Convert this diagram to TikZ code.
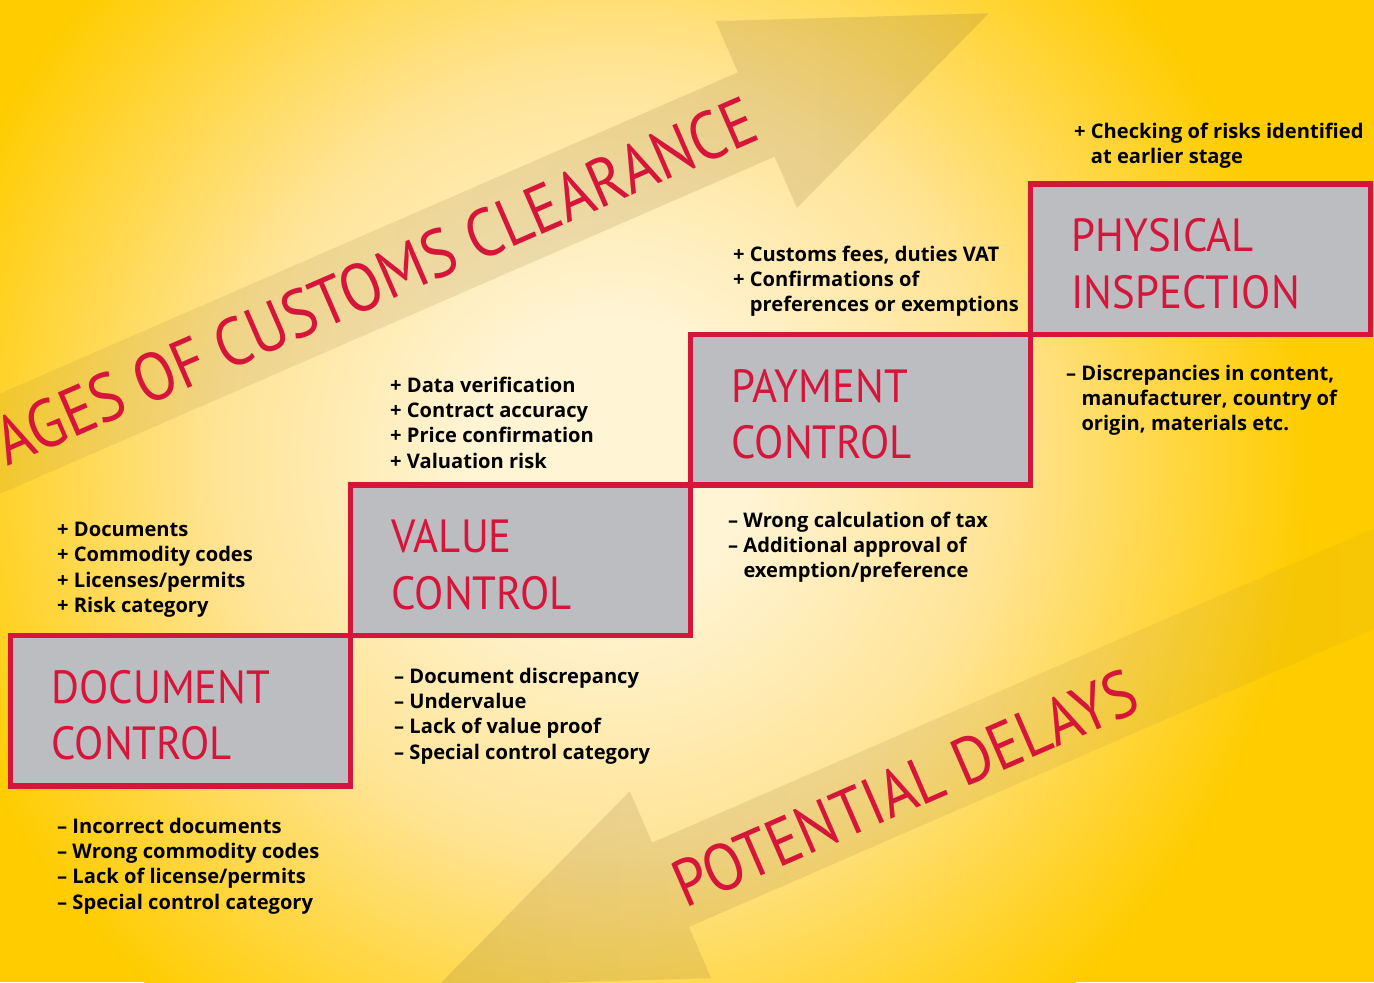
\documentclass[tikz,border=0pt]{standalone}
\usepackage{fontspec}
\usetikzlibrary{fadings}
\setmainfont{Open Sans}
\newfontfamily\headfont[FakeStretch=0.92]{PT Sans}
\newfontfamily\slogfont[FakeStretch=0.89]{PT Sans}

\definecolor{stagered}{RGB}{214,21,58}
\definecolor{stagegray}{RGB}{188,189,193}
\definecolor{bgin}{RGB}{255,244,212}
\definecolor{bgmid}{RGB}{255,228,150}
\definecolor{bgout}{RGB}{255,204,0}
\definecolor{arrowtan}{RGB}{150,120,60}
\pgfdeclareradialshading{bgglow}{\pgfpoint{0bp}{0bp}}{color(0bp)=(bgin); color(5bp)=(bgin); color(14bp)=(bgmid); color(25bp)=(bgout); color(50bp)=(bgout)}
\tikzfading[name=shaftfade, left color=transparent!0, right color=transparent!80]
\tikzfading[name=tailfade, left color=transparent!50, right color=transparent!0]

\tikzset{
  stage/.style={draw=stagered, line width=5.5bp, fill=stagegray, minimum width=340bp, minimum height=150.5bp, inner sep=0pt},
  stagetitle/.style={anchor=base west, inner sep=0pt, text=stagered, align=left, font=\headfont\fontsize{46.7}{56.7}\selectfont},
  note/.style={anchor=base west, inner sep=0pt, font=\bfseries\fontsize{20.2}{25.5}\selectfont},
  bigarrow/.style={fill=arrowtan, fill opacity=0.22},
  slogan/.style={anchor=base west, inner sep=0pt, text=stagered, rotate=23.5, font=\slogfont\fontsize{68}{68}\selectfont}
}

\begin{document}
\begin{tikzpicture}[x=1bp,y=-1bp]
\useasboundingbox (0,0) rectangle (1374,982);
\clip (0,0) rectangle (1374,982);
% background glow
\fill[bgout] (0,0) rectangle (1374,982);
\shade[shading=bgglow] (610,460) circle (700);

% the two big arrows
\fill[bigarrow, path fading=tailfade] (-48.9,515.3) -- (776.4,156.2) -- (798.7,207.5) -- (990.9,12.7)
  -- (717.3,20.5) -- (739.6,71.8) -- (-85.7,430.9) -- cycle;
\fill[bigarrow, path fading=shaftfade] (1515.2,567.6) -- (689.9,926.7) -- (712.2,978.0) -- (438.6,985.8)
  -- (630.8,791.0) -- (653.1,842.3) -- (1478.4,483.2) -- cycle;
\node[slogan] (stages) at (7,467) {AGES OF CUSTOMS CLEARANCE};
\node[slogan, font=\slogfont\fontsize{66.5}{66.5}\selectfont] (delays) at (685,909) {POTENTIAL DELAYS};

% the four stages
\node[stage] (doc) at (180.5,710.75) {};
\node[stage] (value) at (520.5,560.25) {};
\node[stage] (payment) at (860.5,409.75) {};
\node[stage] (physical) at (1200.5,259.25) {};
\node[stagetitle] (doctitle) at ([shift={(43.5,127.2)}]doc.north west) {DOCUMENT\\CONTROL};
\node[stagetitle] (valuetitle) at ([shift={(43.5,127.2)}]value.north west) {VALUE\\CONTROL};
\node[stagetitle] (paymenttitle) at ([shift={(43.5,127.2)}]payment.north west) {PAYMENT\\CONTROL};
\node[stagetitle] (physicaltitle) at ([shift={(43.5,127.2)}]physical.north west) {PHYSICAL\\INSPECTION};

% plus and minus notes
\node[note] (docplus) at (57,536.5) {\begin{tabular}[t]{@{}l@{\ }l@{}}
+ & Documents\\ + & Commodity codes\\ + & Licenses/permits\\ + & Risk category\end{tabular}};
\node[note] (docminus) at (57,833) {\begin{tabular}[t]{@{}l@{\ }l@{}}
-- & Incorrect documents\\ -- & Wrong commodity codes\\ -- & Lack of license/permits\\ -- & Special control category\end{tabular}};
\node[note] (valueplus) at (390,392) {\begin{tabular}[t]{@{}l@{\ }l@{}}
+ & Data verification\\ + & Contract accuracy\\ + & Price confirmation\\ + & Valuation risk\end{tabular}};
\node[note] (valueminus) at (394,683) {\begin{tabular}[t]{@{}l@{\ }l@{}}
-- & Document discrepancy\\ -- & Undervalue\\ -- & Lack of value proof\\ -- & Special control category\end{tabular}};
\node[note] (paymentplus) at (733,261) {\begin{tabular}[t]{@{}l@{\ }l@{}}
+ & Customs fees, duties VAT\\ + & Confirmations of\\ & preferences or exemptions\end{tabular}};
\node[note] (paymentminus) at (728,527) {\begin{tabular}[t]{@{}l@{\ }l@{}}
-- & Wrong calculation of tax\\ -- & Additional approval of\\ & exemption/preference\end{tabular}};
\node[note] (physicalplus) at (1074,138) {\begin{tabular}[t]{@{}l@{\ }l@{}}
+ & Checking of risks identified\\ & at earlier stage\end{tabular}};
\node[note] (physicalminus) at (1066,380) {\begin{tabular}[t]{@{}l@{\ }l@{}}
-- & Discrepancies in content,\\ & manufacturer, country of\\ & origin, materials etc.\end{tabular}};
\end{tikzpicture}
\end{document}
